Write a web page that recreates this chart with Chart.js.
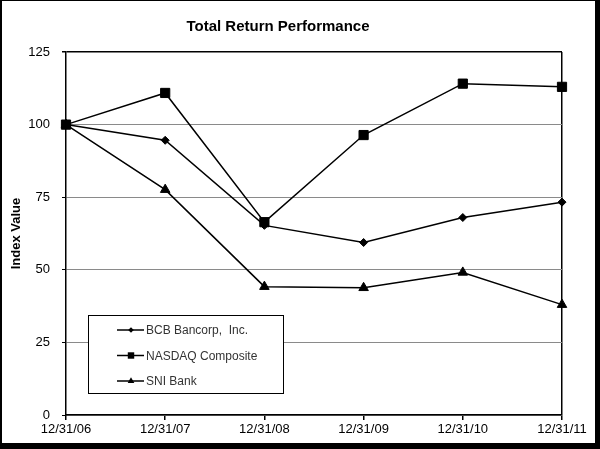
<!DOCTYPE html>
<html>
<head>
<meta charset="utf-8">
<script src="https://cdn.jsdelivr.net/npm/chart.js@4"></script>
<style>
  html, body { margin: 0; padding: 0; background: #fff; }
  #wrap {
    width: 600px; height: 449px; box-sizing: border-box;
    border-style: solid; border-color: #000;
    border-width: 1px 5px 6px 2px;
  }
  canvas { display: block; }
</style>
</head>
<body>
<div id="wrap"><canvas id="chart" width="593" height="442"></canvas></div>
<script>
// chart data
const years = ['12/31/06', '12/31/07', '12/31/08', '12/31/09', '12/31/10', '12/31/11'];
const bcb = [100, 94.6, 65.3, 59.4, 68.0, 73.3];
const nasdaq = [100, 110.9, 66.4, 96.4, 114.1, 113.0];
const sni = [100, 77.6, 44.2, 43.8, 49.1, 38.0];
const yTicks = [0, 25, 50, 75, 100, 125];

const FONT = "'Liberation Sans', Arial, sans-serif";

// title drawn where the original sits (a bit left of centre)
const titlePlugin = {
  id: 'titleText',
  afterDraw(chart) {
    const ctx = chart.ctx;
    ctx.save();
    ctx.font = 'bold 15px ' + FONT;
    ctx.fillStyle = '#000';
    ctx.textAlign = 'center';
    ctx.textBaseline = 'middle';
    ctx.fillText('Total Return Performance', 276, 26);
    ctx.restore();
  }
};

// boxed legend inside the plot, lower left
const boxLegend = {
  id: 'boxLegend',
  afterDatasetsDraw(chart) {
    const ctx = chart.ctx;
    const x0 = 86, y0 = 314, w = 195, h = 78;
    ctx.save();
    ctx.fillStyle = '#fff';
    ctx.fillRect(x0, y0, w, h);
    ctx.strokeStyle = '#000';
    ctx.lineWidth = 1;
    ctx.strokeRect(x0 + 0.5, y0 + 0.5, w, h);
    ctx.font = '12px ' + FONT;
    ctx.textBaseline = 'middle';
    chart.data.datasets.forEach((ds, i) => {
      const y = y0 + 15 + i * 25.5;
      ctx.strokeStyle = '#000';
      ctx.lineWidth = 1.5;
      ctx.beginPath();
      ctx.moveTo(x0 + 29, y);
      ctx.lineTo(x0 + 56, y);
      ctx.stroke();
      ctx.fillStyle = '#000';
      Chart.helpers.drawPoint(ctx, { pointStyle: ds.pointStyle, radius: ds.pointRadius * 0.7, rotation: 0 }, x0 + 43, y);
      ctx.fillStyle = '#333';
      ctx.fillText(ds.label, x0 + 58, y + 1);
    });
    ctx.restore();
  }
};

function series(label, data, style, r) {
  return {
    label: label, data: data,
    borderColor: '#000', borderWidth: 1.5,
    backgroundColor: '#000',
    pointStyle: style, pointRadius: r, pointHoverRadius: r,
    pointBackgroundColor: '#000', pointBorderColor: '#000', pointBorderWidth: 1,
    tension: 0, fill: false
  };
}

new Chart(document.getElementById('chart'), {
  type: 'line',
  data: {
    labels: years,
    datasets: [
      series('BCB Bancorp,  Inc.', bcb, 'rectRot', 4),
      series('NASDAQ Composite', nasdaq, 'rect', 6.5),
      series('SNI Bank', sni, 'triangle', 5.5)
    ]
  },
  options: {
    responsive: false,
    animation: false,
    layout: { padding: { left: 0, top: 51, right: 33, bottom: 0 } },
    plugins: { legend: { display: false }, title: { display: false }, tooltip: { enabled: false } },
    scales: {
      x: {
        offset: false,
        afterFit: s => { s.height = 28; },
        grid: {
          drawOnChartArea: true,
          color: c => c.index === years.length - 1 ? '#000' : 'rgba(0,0,0,0)',
          lineWidth: 1.5,
          tickColor: '#000',
          tickLength: 5
        },
        border: { color: '#000', width: 1.5 },
        ticks: { color: '#000', font: { family: FONT, size: 13 }, padding: 2, maxRotation: 0, autoSkip: false }
      },
      y: {
        min: 0, max: 125,
        afterFit: s => { s.width = 64; },
        afterBuildTicks: s => { s.ticks = yTicks.map(v => ({ value: v })); },
        grid: {
          color: c => c.tick.value === 125 ? '#000' : '#8a8a8a',
          lineWidth: c => c.tick.value === 125 ? 1.5 : 1,
          tickColor: '#000',
          tickLength: 4
        },
        border: { color: '#000', width: 1.5 },
        ticks: { color: '#000', font: { family: FONT, size: 13 }, padding: 12 },
        title: {
          display: true, text: 'Index Value', color: '#000',
          font: { family: FONT, size: 13, weight: 'bold' },
          padding: { top: 7, bottom: 0 }
        }
      }
    }
  },
  plugins: [titlePlugin, boxLegend]
});
</script>
</body>
</html>
